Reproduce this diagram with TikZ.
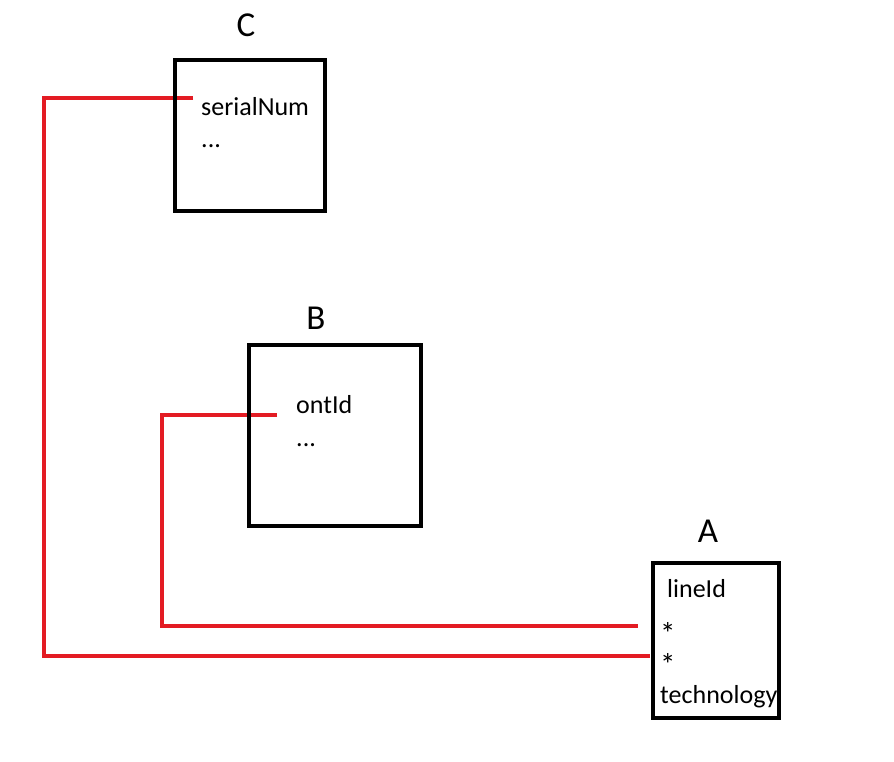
\documentclass[tikz,border=0pt]{standalone}
\usepackage{fontspec}
\setmainfont{Carlito}
\definecolor{wire}{HTML}{E31B23}
\tikzset{
  box/.style={draw=black, line width=4pt, rectangle, inner sep=0pt},
  title/.style={font=\fontsize{35}{40}\selectfont, anchor=base, inner sep=0pt},
  field/.style={font=\fontsize{26}{30}\selectfont, anchor=base west, inner sep=0pt},
  star/.style={font=\fontsize{31}{34}\selectfont, anchor=base west, inner sep=0pt},
  wire/.style={draw=wire, line width=4pt}
}
\begin{document}
\begin{tikzpicture}[x=1pt,y=-1pt]
\useasboundingbox (0,0) rectangle (894,761);
% texts
\node[title] (tC) at (246,36) {C};
\node[title] (tB) at (316,329) {B};
\node[title] (tA) at (708,542) {A};
\node[field] (serial) at (201,115) {serialNum};
\node[field] (cdots) at (201,147) {...};
\node[field] (ont) at (296,413) {ontId};
\node[field] (bdots) at (296,446) {...};
\node[field] (line) at (667,597) {lineId};
\node[star] (st1) at (660,644) {*};
\node[star] (st2) at (660,675) {*};
\node[field] (tech) at (660,703) {technology};
% connector ends
\coordinate (cA1) at (638,626);
\coordinate (cA2) at (650,656);
\coordinate (cC) at (193,98);
\coordinate (cB) at (277,415);
% connectors
\draw[wire] (cC) -| (44,656) -- (cA2);
\draw[wire] (cB) -| (162,626) -- (cA1);
% boxes
\node[box, minimum width=150pt, minimum height=151pt] (C) at (250,135.5) {};
\node[box, minimum width=172pt, minimum height=181pt] (B) at (335,435.5) {};
\node[box, minimum width=126pt, minimum height=155pt] (A) at (716,640.5) {};
\end{tikzpicture}
\end{document}
